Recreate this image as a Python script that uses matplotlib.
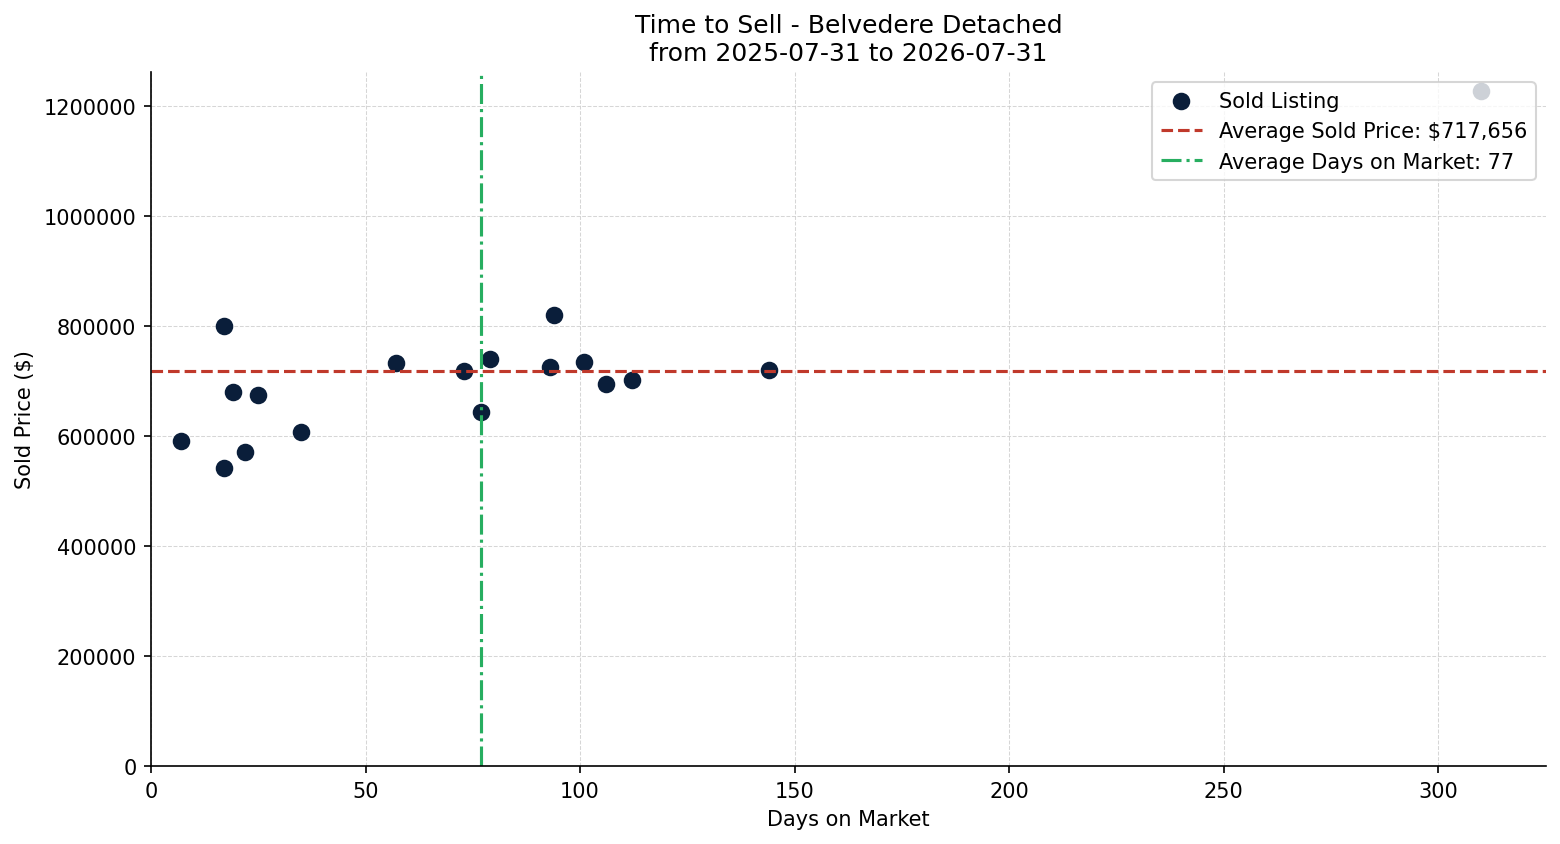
import matplotlib
matplotlib.use('Agg')
import matplotlib.pyplot as plt

# -----------------------------------------------------------------------------
# Data
# -----------------------------------------------------------------------------

days_on_market = [7, 17, 17, 19, 22, 25, 35, 57, 73, 77, 79, 93, 94, 101, 106, 112, 144, 310]
sold_price = [590000, 800000, 542000, 680000, 571000, 675000, 607000, 733000, 718000,
              644000, 740000, 725000, 820000, 735000, 695000, 702000, 720000, 1227000]

avg_price = 717656
avg_days = 77

title_text = 'Time to Sell - Belvedere Detached\nfrom 2025-07-31 to 2026-07-31'

# -----------------------------------------------------------------------------
# Plot
# -----------------------------------------------------------------------------

fig, ax = plt.subplots(figsize=(10.4, 5.633), dpi=150)

ax.scatter(days_on_market, sold_price, s=55, color='#0a1e3a', label='Sold Listing')
ax.axhline(avg_price, color='#c0392b', linestyle='--', linewidth=1.5,
           label='Average Sold Price: ${:,}'.format(avg_price))
ax.axvline(avg_days, color='#27ae60', linestyle='-.', linewidth=1.5,
           label='Average Days on Market: {}'.format(avg_days))

ax.set_title(title_text)
ax.set_xlabel('Days on Market')
ax.set_ylabel('Sold Price ($)')
ax.set_xlim(left=0)
ax.set_ylim(bottom=0)
ax.ticklabel_format(axis='y', style='plain')

ax.grid(True, linestyle='--', linewidth=0.5, color='#cccccc', alpha=0.8)
ax.set_axisbelow(True)
ax.spines['top'].set_visible(False)
ax.spines['right'].set_visible(False)

ax.legend(loc='upper right')

fig.subplots_adjust(left=0.0968, right=0.991, top=0.9136, bottom=0.0923)
fig.savefig('out.png', dpi=150)
